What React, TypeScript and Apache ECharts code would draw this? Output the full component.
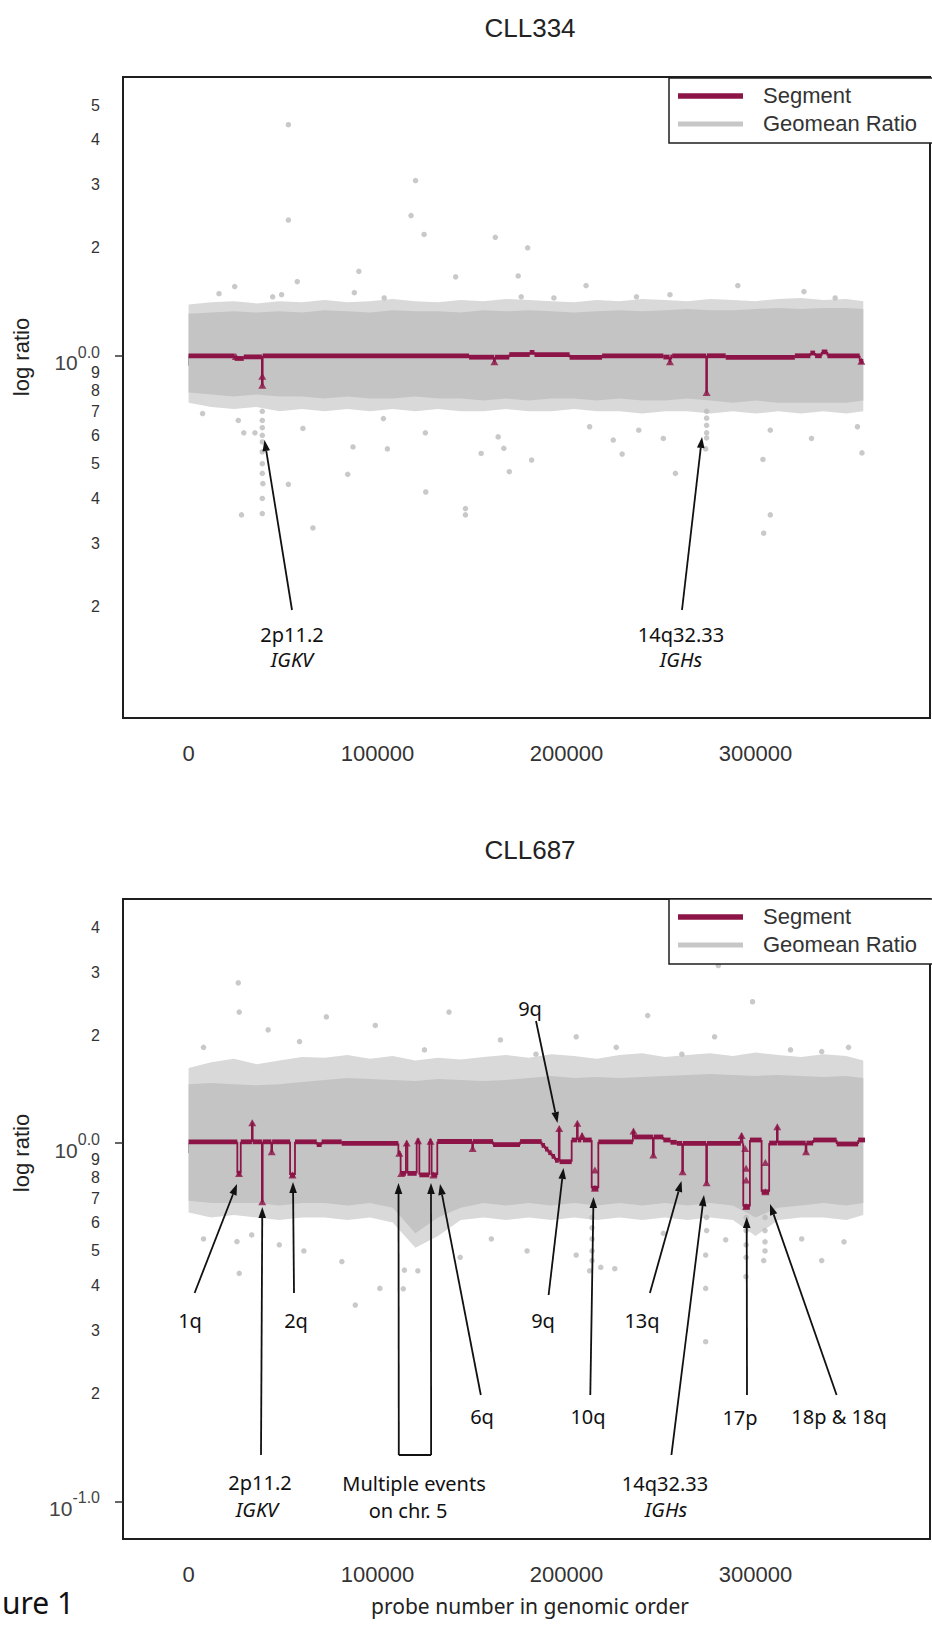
import React, { useEffect, useRef } from 'react';
import * as echarts from 'echarts';

// ---------------- data ----------------
const xTicks = [0, 100000, 200000, 300000];
const yLabelsTop = [0.2, 0.3, 0.4, 0.5, 0.6, 0.7, 0.8, 0.9, 1, 2, 3, 4, 5];
const yLabelsBottom = [0.1, 0.2, 0.3, 0.4, 0.5, 0.6, 0.7, 0.8, 0.9, 1, 2, 3, 4];
const yMajorTop = [1];
const yMajorBottom = [0.1, 1];

const bandX = [0, 12000, 24000, 36000, 48000, 60000, 72000, 84000, 96000, 108000, 120000, 132000, 144000, 156000, 168000, 180000, 192000, 204000, 216000, 228000, 240000, 252000, 264000, 276000, 288000, 300000, 312000, 324000, 336000, 348000, 357000];

// CLL334 geomean ratio cloud (dense part and sparse fringe)
const topBandHi = [1.31, 1.32, 1.33, 1.32, 1.33, 1.32, 1.34, 1.33, 1.32, 1.34, 1.33, 1.33, 1.32, 1.34, 1.33, 1.34, 1.33, 1.32, 1.33, 1.34, 1.33, 1.34, 1.35, 1.34, 1.34, 1.35, 1.36, 1.35, 1.36, 1.36, 1.35];
const topBandLo = [0.79, 0.78, 0.77, 0.78, 0.77, 0.77, 0.76, 0.77, 0.76, 0.76, 0.77, 0.76, 0.76, 0.75, 0.76, 0.75, 0.76, 0.76, 0.75, 0.76, 0.75, 0.75, 0.76, 0.75, 0.74, 0.75, 0.74, 0.74, 0.74, 0.74, 0.75];
const topFringeHi = [1.39, 1.41, 1.42, 1.40, 1.42, 1.41, 1.43, 1.41, 1.42, 1.44, 1.42, 1.41, 1.43, 1.42, 1.44, 1.43, 1.42, 1.41, 1.43, 1.42, 1.44, 1.43, 1.42, 1.44, 1.43, 1.42, 1.44, 1.45, 1.43, 1.44, 1.42];
const topFringeLo = [0.74, 0.72, 0.71, 0.72, 0.70, 0.71, 0.70, 0.71, 0.70, 0.71, 0.70, 0.71, 0.70, 0.70, 0.71, 0.70, 0.70, 0.71, 0.70, 0.70, 0.69, 0.70, 0.70, 0.69, 0.70, 0.69, 0.70, 0.69, 0.70, 0.69, 0.70];

// CLL687 geomean ratio cloud
const botBandHi = [1.46, 1.47, 1.46, 1.45, 1.46, 1.48, 1.50, 1.52, 1.51, 1.50, 1.49, 1.51, 1.50, 1.49, 1.50, 1.52, 1.54, 1.52, 1.53, 1.52, 1.53, 1.54, 1.55, 1.56, 1.55, 1.54, 1.55, 1.54, 1.53, 1.54, 1.52];
const botBandLo = [0.69, 0.68, 0.68, 0.68, 0.67, 0.68, 0.68, 0.67, 0.68, 0.66, 0.56, 0.62, 0.66, 0.68, 0.67, 0.68, 0.67, 0.68, 0.67, 0.68, 0.67, 0.68, 0.67, 0.68, 0.67, 0.62, 0.66, 0.67, 0.68, 0.67, 0.68];
const botFringeHi = [1.62, 1.68, 1.72, 1.66, 1.70, 1.74, 1.73, 1.76, 1.72, 1.75, 1.70, 1.73, 1.71, 1.74, 1.76, 1.73, 1.77, 1.75, 1.72, 1.76, 1.78, 1.74, 1.76, 1.78, 1.75, 1.79, 1.76, 1.74, 1.77, 1.75, 1.70];
const botFringeLo = [0.64, 0.62, 0.63, 0.62, 0.61, 0.62, 0.62, 0.61, 0.62, 0.60, 0.51, 0.55, 0.61, 0.62, 0.61, 0.62, 0.61, 0.62, 0.61, 0.62, 0.61, 0.62, 0.61, 0.62, 0.61, 0.55, 0.61, 0.62, 0.62, 0.61, 0.63];

// outlying probes [probe index, ratio]
const topOutliers = [
  [52800, 4.41], [120100, 3.08], [52800, 2.39], [117700, 2.46], [124600, 2.18], [162300, 2.14], [179400, 2.0],
  [90100, 1.72], [57500, 1.61], [141300, 1.66], [174400, 1.67], [210300, 1.57], [290600, 1.57], [24400, 1.56],
  [325600, 1.51], [16100, 1.49], [87700, 1.5], [49200, 1.48], [176000, 1.46], [44500, 1.46], [103500, 1.45],
  [193300, 1.45], [237000, 1.46], [254700, 1.48], [342100, 1.45],
  [7400, 0.69], [26300, 0.66], [29200, 0.61], [35100, 0.61], [39000, 0.575], [39300, 0.44], [39000, 0.363],
  [52800, 0.438], [65800, 0.331], [60500, 0.627], [84200, 0.467], [87000, 0.557], [105200, 0.55], [103100, 0.668],
  [125500, 0.417], [125300, 0.61], [146500, 0.375], [146500, 0.36], [154800, 0.534], [163800, 0.594], [169700, 0.475],
  [181500, 0.512], [166800, 0.552], [212200, 0.634], [224700, 0.582], [229400, 0.532], [238200, 0.62], [251200, 0.588],
  [257600, 0.47], [273600, 0.55], [303900, 0.514], [307800, 0.36], [304300, 0.32], [329600, 0.588], [356300, 0.536],
  [353900, 0.634], [307800, 0.62], [28000, 0.36],
  [39000, 0.70], [39000, 0.66], [39000, 0.63], [39000, 0.60], [39000, 0.54], [39000, 0.50], [39000, 0.47], [39000, 0.40],
  [274100, 0.70], [274100, 0.67], [274100, 0.64], [274100, 0.61], [274100, 0.59],
];
const botOutliers = [
  [26300, 2.8], [280300, 3.13], [26800, 2.32], [72900, 2.25], [137800, 2.32], [298400, 2.48], [242900, 2.27],
  [42100, 2.07], [98800, 2.13], [165000, 1.94], [205100, 1.98], [278300, 1.98], [349200, 1.85], [7900, 1.85],
  [58700, 1.92], [124800, 1.82], [226300, 1.85], [318500, 1.82], [183800, 1.77], [261000, 1.77], [335000, 1.8],
  [25600, 0.531], [26800, 0.433], [33400, 0.554], [81100, 0.467], [88200, 0.353], [101200, 0.393], [114200, 0.442],
  [121300, 0.44], [212200, 0.44], [205100, 0.487], [218100, 0.45], [273600, 0.487], [273600, 0.393], [273600, 0.279],
  [284200, 0.537], [324400, 0.54], [346800, 0.53], [335000, 0.47], [294900, 0.424], [304300, 0.47], [7900, 0.54],
  [48000, 0.52], [61000, 0.5], [143700, 0.48], [160200, 0.54], [179100, 0.5], [251200, 0.56], [225500, 0.446],
  [113600, 0.392],
  [213500, 0.62], [213500, 0.58], [213500, 0.54], [213500, 0.5], [213500, 0.47],
  [295000, 0.62], [295000, 0.57], [295000, 0.52], [295000, 0.48],
  [305000, 0.62], [305000, 0.57], [305000, 0.53], [305000, 0.5],
  [274100, 0.62], [274100, 0.57],
];

// segmentation [start probe, end probe, ratio]
const topSegments = [
  [0, 24400, 1.0], [24400, 29200, 0.983], [29200, 38800, 0.993], [38800, 39200, 0.828], [39200, 148400, 1.0],
  [148400, 161600, 0.991], [161600, 162000, 0.962], [162000, 169700, 0.991], [169700, 180500, 1.008],
  [180500, 183000, 1.022], [183000, 201600, 1.008], [201600, 218800, 0.99], [218800, 251200, 1.0],
  [251200, 254500, 0.992], [254500, 254900, 0.962], [254900, 255900, 0.992], [255900, 273900, 1.0],
  [273900, 274300, 0.79], [274300, 284200, 1.0], [284200, 320800, 0.99], [320800, 329000, 1.0],
  [329000, 331500, 1.018], [331500, 335000, 1.0], [335000, 338000, 1.025], [338000, 355100, 1.0],
  [355100, 357000, 0.965],
];
const botSegments = [
  [0, 25800, 1.008], [25800, 27600, 0.823], [27600, 33500, 1.008], [33500, 33900, 1.139], [33900, 38800, 1.008],
  [38800, 39200, 0.686], [39200, 43800, 1.008], [43800, 44200, 0.946], [44200, 53700, 1.008], [53700, 56300, 0.814],
  [56300, 67800, 1.008], [67800, 70400, 0.99], [70400, 81000, 1.008], [81000, 111000, 0.998], [111000, 112200, 0.936],
  [112200, 115000, 0.823], [115000, 115800, 1.0], [115800, 120700, 0.823], [120700, 122100, 1.015],
  [122100, 127400, 0.815], [127400, 128600, 1.012], [128600, 131600, 0.815], [131600, 150100, 1.01],
  [150100, 150500, 0.966], [150500, 161100, 1.01], [161100, 175400, 0.99], [175400, 186800, 1.01],
  [186800, 188600, 0.985], [188600, 190300, 0.962], [190300, 192100, 0.94], [192100, 193900, 0.918],
  [193900, 195900, 0.895], [195900, 196300, 1.099], [196300, 202700, 0.887], [202700, 205500, 1.02],
  [205500, 205900, 1.135], [205900, 207800, 1.02], [207800, 208600, 1.05], [208600, 213300, 1.02],
  [213300, 216800, 0.748], [216800, 235100, 1.008], [235100, 235700, 1.08], [235700, 245700, 1.04],
  [245700, 246100, 0.926], [246100, 251200, 1.04], [251200, 255000, 1.02], [255000, 258300, 1.005],
  [258300, 261200, 0.998], [261200, 261600, 0.832], [261600, 273900, 0.998], [273900, 274300, 0.775],
  [274300, 292200, 0.998], [292200, 293000, 1.05], [293000, 293500, 0.998], [293500, 297000, 0.665],
  [297000, 303200, 1.02], [303200, 307200, 0.731], [307200, 311300, 1.0], [311300, 311700, 1.11],
  [311700, 326500, 1.0], [326500, 326900, 0.946], [326900, 330500, 1.0], [330500, 342900, 1.02],
  [342900, 354300, 0.994], [354300, 357900, 1.02],
];

// triangle marks on the segmentation
const topMarkers = [
  [25000, 0.995], [39000, 0.877], [39000, 0.828], [161800, 0.962], [254700, 0.962], [274100, 0.79], [356000, 0.965],
];
const botMarkers = [
  [26700, 0.823], [33700, 1.139], [39000, 0.686], [44000, 0.946], [55000, 0.814], [111500, 0.936], [112500, 0.823],
  [115400, 1.0], [121400, 1.015], [128000, 1.012], [129500, 0.815], [150300, 0.966], [196100, 1.099], [205700, 1.135],
  [208200, 1.05], [215000, 0.748], [215000, 0.841], [235400, 1.08], [245900, 0.926], [261400, 0.832], [274100, 0.775],
  [292600, 1.05], [295000, 0.665], [295000, 0.789], [295000, 0.85], [294500, 0.966], [305200, 0.731], [305200, 0.883],
  [311500, 1.11], [326700, 0.946],
];

// ---------------- styling ----------------
const SEG = '#8c1446';
const GRAY = '#c5c4c5';
const FRINGE = '#dad9da';
const INK = '#1e1e1e';
const FONT_AX = '"Liberation Sans", Arial, sans-serif';
const FONT_ANN = '"Noto Sans", "Open Sans", sans-serif';
const X_MIN = -34700;
const X_MAX = 392300;
const TOP_Y = [0.0977, 5.99];
const BOT_Y = [0.0785, 4.8];

function bandSeries(name: string, xi: number, yi: number, hi: number[], lo: number[], color: string) {
  return {
    type: 'custom', name, xAxisIndex: xi, yAxisIndex: yi, silent: true, z: 1,
    data: bandX.map((x, i) => [x, lo[i], hi[i]]),
    encode: { x: 0, y: [1, 2] },
    renderItem: (params: any, api: any) => {
      if (params.dataIndex !== 0) return null;
      const pts: number[][] = [];
      for (let i = 0; i < bandX.length; i++) pts.push(api.coord([bandX[i], hi[i]]));
      for (let i = bandX.length - 1; i >= 0; i--) pts.push(api.coord([bandX[i], lo[i]]));
      return { type: 'polygon', shape: { points: pts }, style: { fill: color } };
    },
  };
}

function segSeries(xi: number, yi: number, segs: number[][]) {
  return {
    type: 'custom', name: 'Segment', xAxisIndex: xi, yAxisIndex: yi, silent: true, z: 3,
    data: segs,
    encode: { x: [0, 1], y: 2 },
    renderItem: (params: any, api: any) => {
      const i = params.dataIndex;
      const s = segs[i];
      const a = api.coord([s[0], s[2]]);
      const b = api.coord([s[1], s[2]]);
      const children: any[] = [
        { type: 'line', shape: { x1: a[0], y1: a[1], x2: b[0], y2: b[1] }, style: { stroke: SEG, lineWidth: 4.8 } },
      ];
      if (i > 0) {
        const c = api.coord([s[0], segs[i - 1][2]]);
        children.push({ type: 'line', shape: { x1: a[0], y1: c[1], x2: a[0], y2: a[1] }, style: { stroke: SEG, lineWidth: 1.8 } });
      }
      return { type: 'group', children };
    },
  };
}

function panelSeries(p: number, d: any) {
  const xi = p, yi = p * 2;
  return [
    bandSeries('Geomean Ratio', xi, yi, d.fHi, d.fLo, FRINGE),
    bandSeries('Geomean Ratio', xi, yi, d.hi, d.lo, GRAY),
    {
      type: 'scatter', name: 'Geomean Ratio', xAxisIndex: xi, yAxisIndex: yi, z: 2, silent: true,
      symbolSize: 5.5, itemStyle: { color: '#bdbcbd' }, data: d.out,
    },
    segSeries(xi, yi, d.segs),
    {
      type: 'scatter', name: 'Segment', xAxisIndex: xi, yAxisIndex: yi, z: 4, silent: true,
      symbol: 'triangle', symbolSize: [8, 7], itemStyle: { color: SEG }, data: d.marks,
    },
  ];
}

function xAxisFor(gridIndex: number) {
  return {
    type: 'value', gridIndex, min: X_MIN, max: X_MAX,
    axisLine: { show: false },
    axisTick: { show: true, customValues: xTicks, length: 10, lineStyle: { color: '#333', width: 1.5 } },
    axisLabel: { show: true, customValues: xTicks, fontSize: 22, fontFamily: FONT_AX, color: '#333', margin: 24, formatter: (v: number) => String(v) },
    splitLine: { show: false },
  };
}

function yAxesFor(gridIndex: number, range: number[], labels: number[], majors: number[]) {
  return [
    {
      type: 'log', logBase: 10, gridIndex, position: 'left', min: range[0], max: range[1],
      axisLine: { show: false }, axisTick: { show: false }, axisLabel: { show: false }, splitLine: { show: false },
    },
    {
      type: 'value', gridIndex, position: 'left', min: Math.log10(range[0]), max: Math.log10(range[1]),
      axisLine: { show: false }, splitLine: { show: false },
      axisTick: { show: true, customValues: majors.map(Math.log10), length: 8, lineStyle: { color: '#333', width: 1.5 } },
      axisLabel: {
        show: true, customValues: labels.map(Math.log10), margin: 23, fontSize: 16, fontFamily: FONT_AX, color: '#333',
        formatter: (v: number) => {
          if (Math.abs(v) < 1e-6) return '{b|10}{s|0.0}';
          if (Math.abs(v + 1) < 1e-6) return '{b|10}{s|-1.0}';
          const r = Math.pow(10, v);
          return r >= 1 ? String(Math.round(r)) : String(Math.round(r * 10));
        },
        rich: {
          b: { fontSize: 21, fontFamily: FONT_AX, color: '#444', padding: [14, 0, 0, 0], verticalAlign: 'top' },
          s: { fontSize: 16, fontFamily: FONT_AX, color: '#444', padding: [6, 0, 0, 0], verticalAlign: 'top' },
        },
      },
    },
  ];
}

function text(t: string, x: number, y: number, size: number, extra: any = {}) {
  return {
    type: 'text', x, y, z: 100,
    style: { text: t, fontSize: size, fontFamily: FONT_ANN, fill: '#111', align: 'center', verticalAlign: 'middle', ...extra },
  };
}

function arrow(x1: number, y1: number, x2: number, y2: number) {
  const ang = Math.atan2(y2 - y1, x2 - x1);
  const L = 11, W = 3.8;
  const bx = x2 - L * Math.cos(ang), by = y2 - L * Math.sin(ang);
  const px = -Math.sin(ang) * W, py = Math.cos(ang) * W;
  return [
    { type: 'line', z: 100, shape: { x1, y1, x2: bx, y2: by }, style: { stroke: '#111', lineWidth: 1.8 } },
    { type: 'polygon', z: 100, shape: { points: [[x2, y2], [bx + px, by + py], [bx - px, by - py]] }, style: { fill: '#111' } },
  ];
}

function legend(top: number) {
  return [
    { type: 'rect', z: 90, shape: { x: 669, y: top, width: 300, height: 65 }, style: { fill: '#fff', stroke: INK, lineWidth: 1.5 } },
    { type: 'line', z: 91, shape: { x1: 678, y1: top + 18, x2: 743, y2: top + 18 }, style: { stroke: SEG, lineWidth: 5.5 } },
    { type: 'line', z: 91, shape: { x1: 678, y1: top + 46, x2: 743, y2: top + 46 }, style: { stroke: '#c8c7c8', lineWidth: 5 } },
    { type: 'text', z: 91, x: 763, y: top + 17, style: { text: 'Segment', fontSize: 22, fontFamily: FONT_AX, fill: '#333', align: 'left', verticalAlign: 'middle' } },
    { type: 'text', z: 91, x: 763, y: top + 45, style: { text: 'Geomean Ratio', fontSize: 22, fontFamily: FONT_AX, fill: '#333', align: 'left', verticalAlign: 'middle' } },
  ];
}

export default function App() {
  const ref = useRef<HTMLDivElement>(null);
  useEffect(() => {
    if (!ref.current) return;
    const chart = echarts.init(ref.current, null, { renderer: 'svg' });
    const gridStyle = { show: true, borderColor: INK, borderWidth: 2, backgroundColor: 'transparent', containLabel: false, outerBoundsMode: 'none' };
    const graphic: any[] = [
      { type: 'text', x: 530, y: 28, z: 100, style: { text: 'CLL334', fontSize: 26, fontFamily: FONT_AX, fill: '#222', align: 'center', verticalAlign: 'middle' } },
      { type: 'text', x: 530, y: 850, z: 100, style: { text: 'CLL687', fontSize: 26, fontFamily: FONT_AX, fill: '#222', align: 'center', verticalAlign: 'middle' } },
      { type: 'text', x: 21, y: 357, rotation: Math.PI / 2, z: 100, style: { text: 'log ratio', fontSize: 22, fontFamily: FONT_AX, fill: '#222', align: 'center', verticalAlign: 'middle' } },
      { type: 'text', x: 21, y: 1153, rotation: Math.PI / 2, z: 100, style: { text: 'log ratio', fontSize: 22, fontFamily: FONT_AX, fill: '#222', align: 'center', verticalAlign: 'middle' } },
      text('probe number in genomic order', 530, 1606, 21, { fill: '#222' }),
      text('ure 1', 2, 1602, 30, { align: 'left', fill: '#111' }),
      ...legend(78),
      ...legend(899),
      // top panel annotations
      ...arrow(292, 610, 264.5, 440),
      text('2p11.2', 292, 634, 20), text('IGKV', 292, 659, 20, { fontStyle: 'italic' }),
      ...arrow(682, 610, 702, 437),
      text('14q32.33', 681, 634, 20), text('IGHs', 681, 659, 20, { fontStyle: 'italic' }),
      // bottom panel annotations
      text('9q', 530, 1008, 20), ...arrow(536, 1021, 557.5, 1123),
      text('1q', 190, 1320, 20), ...arrow(194.6, 1293, 237, 1184),
      text('2q', 296, 1320, 20), ...arrow(294, 1293, 293, 1182),
      ...arrow(261, 1455, 262.3, 1207),
      text('2p11.2', 260, 1482, 20), text('IGKV', 257, 1509, 20, { fontStyle: 'italic' }),
      { type: 'line', z: 100, shape: { x1: 398.8, y1: 1455, x2: 431.1, y2: 1455 }, style: { stroke: '#111', lineWidth: 1.8 } },
      ...arrow(398.8, 1455, 398.5, 1183),
      ...arrow(431.1, 1455, 431, 1183),
      text('Multiple events', 414, 1483, 20), text('on chr. 5', 408, 1510, 20),
      ...arrow(480.8, 1395, 440, 1184), text('6q', 482, 1416, 20),
      text('9q', 543, 1320, 20), ...arrow(548.6, 1295, 563.5, 1168),
      ...arrow(590.3, 1395, 593.5, 1197), text('10q', 588, 1416, 20),
      text('13q', 642, 1320, 20), ...arrow(649.9, 1293, 681.5, 1181),
      ...arrow(671.4, 1455, 704, 1195),
      text('14q32.33', 665, 1483, 20), text('IGHs', 666, 1509, 20, { fontStyle: 'italic' }),
      ...arrow(747, 1395, 746.7, 1217), text('17p', 740, 1417, 20),
      ...arrow(836.6, 1395, 770, 1204), text('18p & 18q', 839, 1416, 20),
    ];
    chart.setOption({
      animation: false,
      backgroundColor: '#ffffff',
      textStyle: { fontFamily: FONT_AX },
      grid: [
        { ...gridStyle, left: 123, top: 77, width: 807, height: 641 },
        { ...gridStyle, left: 123, top: 899, width: 807, height: 640 },
      ],
      xAxis: [xAxisFor(0), xAxisFor(1)],
      yAxis: [
        ...yAxesFor(0, TOP_Y, yLabelsTop, yMajorTop),
        ...yAxesFor(1, BOT_Y, yLabelsBottom, yMajorBottom),
      ],
      series: [
        ...panelSeries(0, { hi: topBandHi, lo: topBandLo, fHi: topFringeHi, fLo: topFringeLo, out: topOutliers, segs: topSegments, marks: topMarkers }),
        ...panelSeries(1, { hi: botBandHi, lo: botBandLo, fHi: botFringeHi, fLo: botFringeLo, out: botOutliers, segs: botSegments, marks: botMarkers }),
      ],
      graphic,
    });
    return () => chart.dispose();
  }, []);
  return <div ref={ref} style={{ position: 'absolute', left: 0, top: 0, width: 932, height: 1625, background: '#fff' }} />;
}
